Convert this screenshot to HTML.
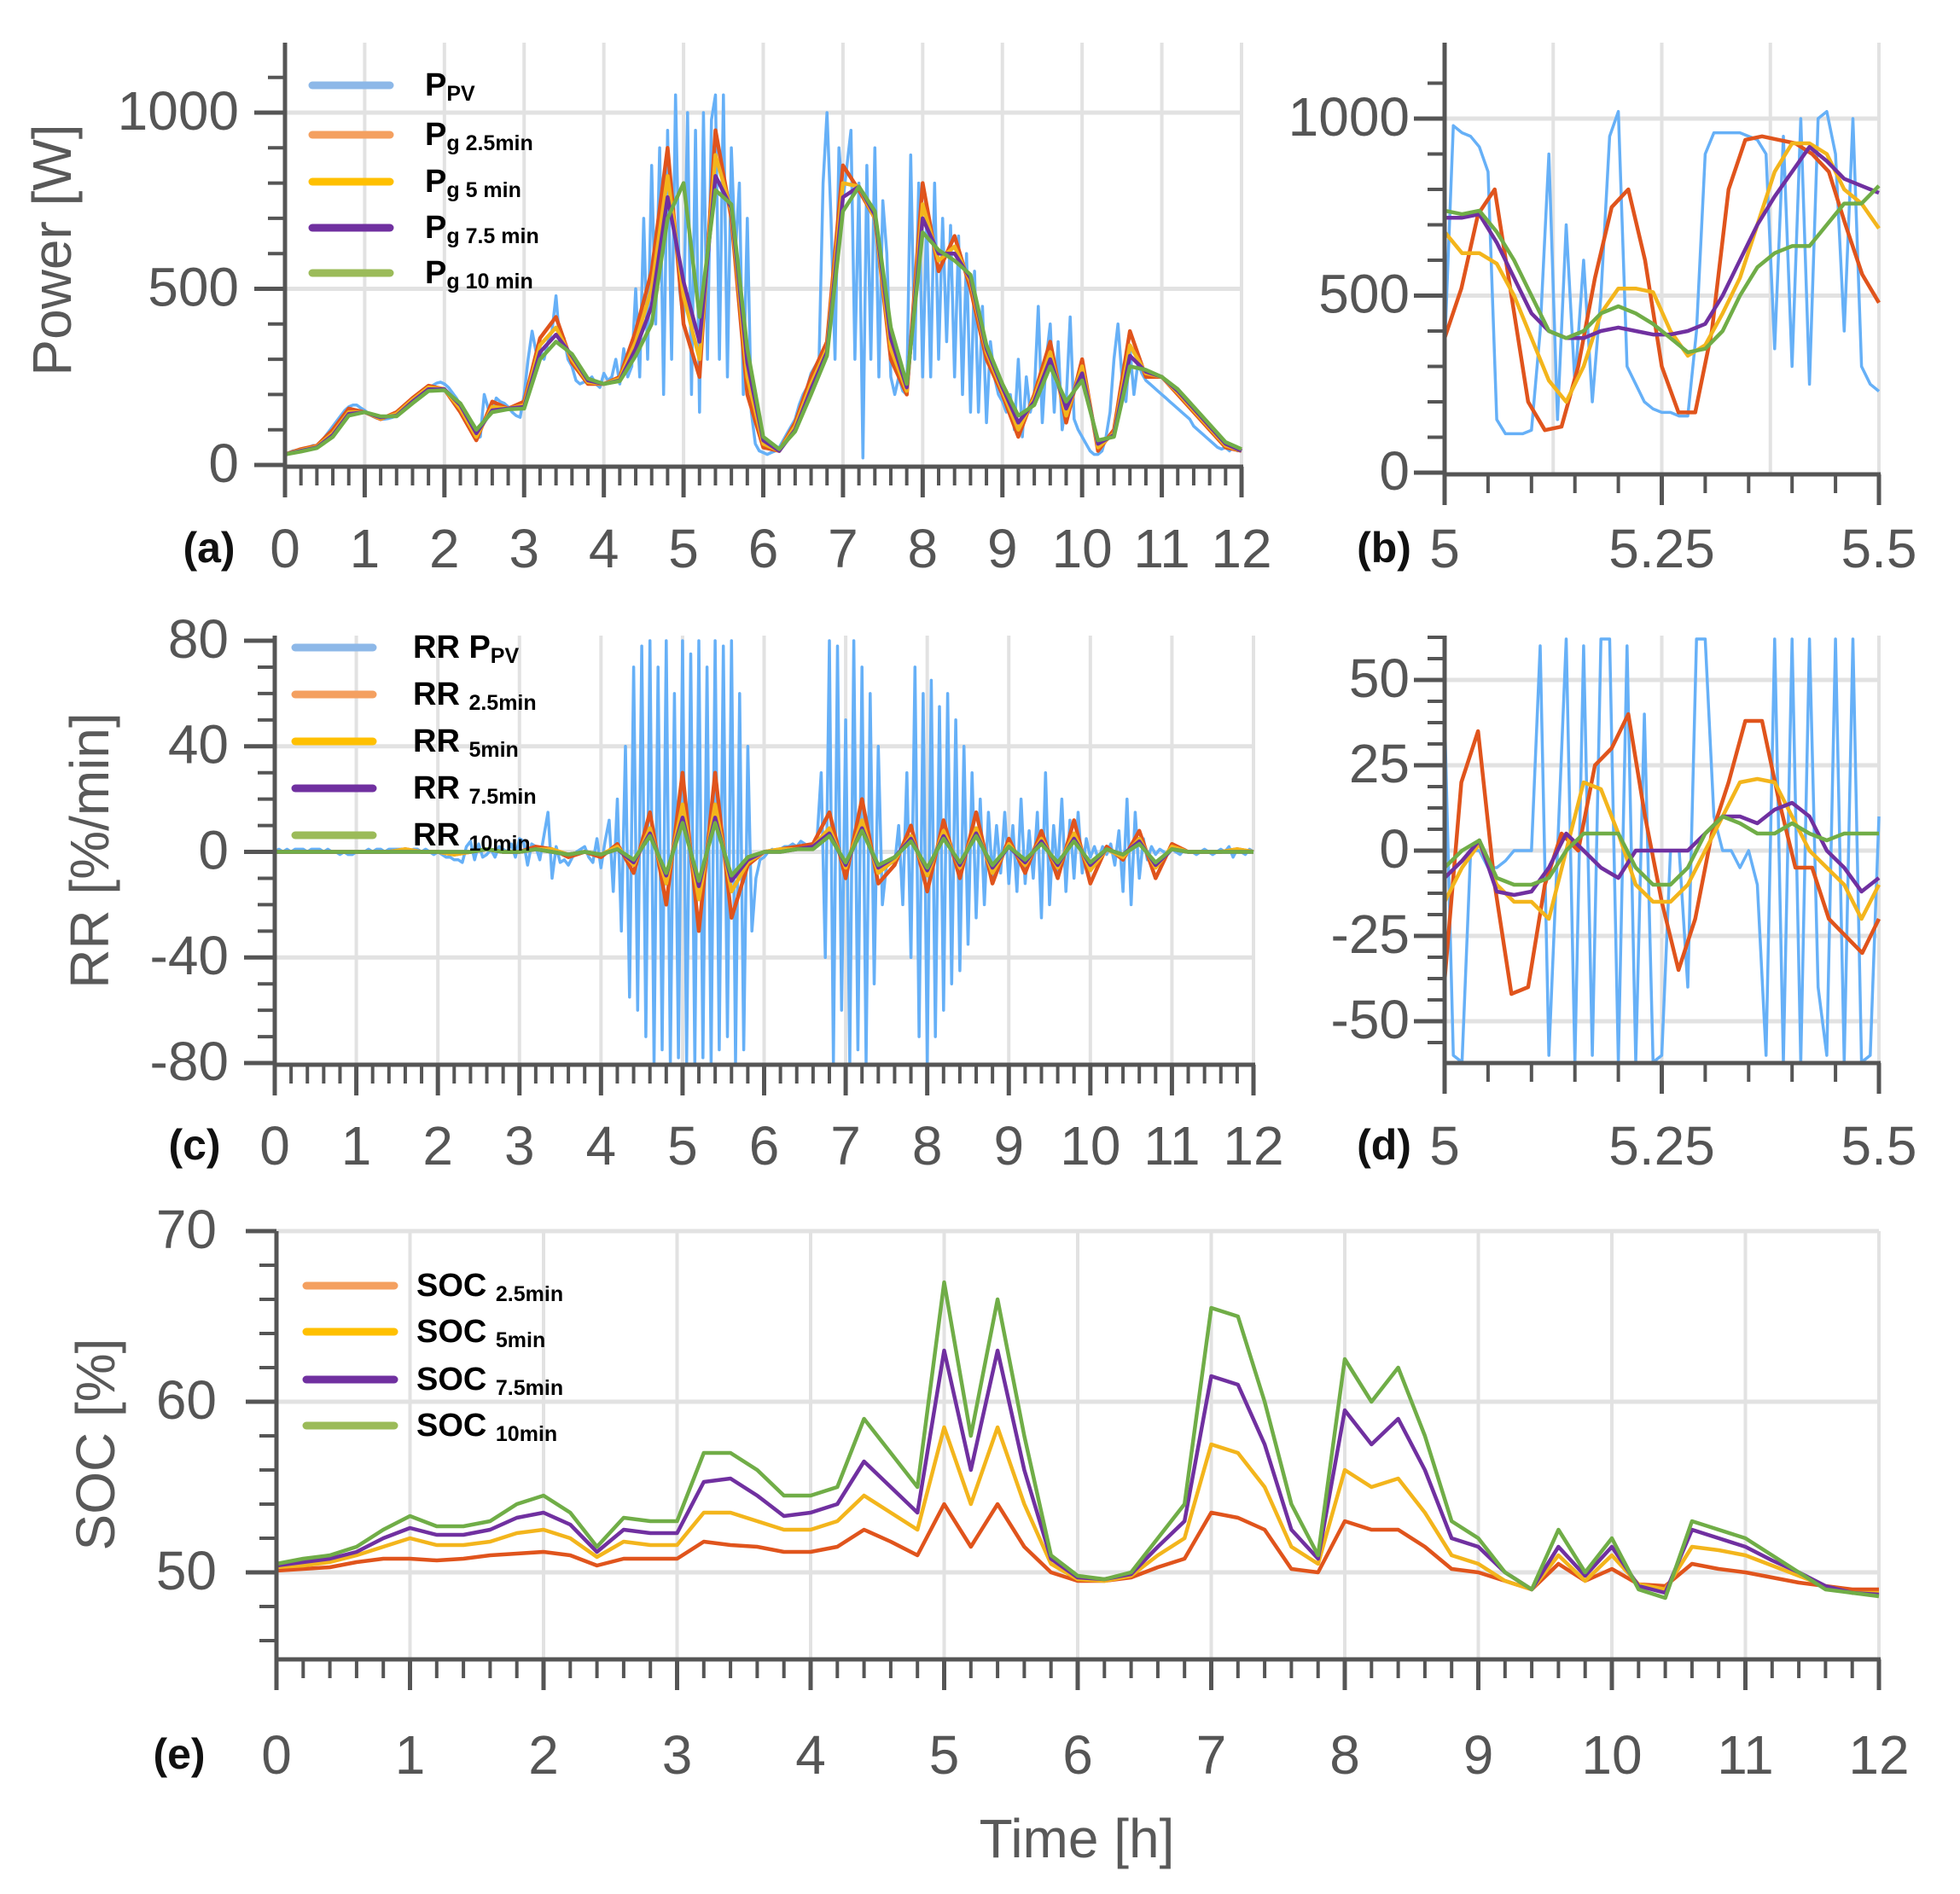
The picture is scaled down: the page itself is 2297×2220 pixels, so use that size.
<!DOCTYPE html>
<html><head><meta charset="utf-8">
<style>
html,body{margin:0;padding:0;background:#fff;}
svg{display:block;}
text{font-family:"Liberation Sans",sans-serif;}
</style></head>
<body>
<svg id="fig" width="2297" height="2220" viewBox="0 0 2297 2220" xmlns="http://www.w3.org/2000/svg">
<rect x="0" y="0" width="2297" height="2220" fill="#fff"/>
<g id="layer"></g>
<text x="66" y="293" font-size="64" fill="#595959" text-anchor="middle" dominant-baseline="middle" transform="rotate(-90 66 293)">Power [W]</text>
<text x="110" y="997" font-size="64" fill="#595959" text-anchor="middle" dominant-baseline="middle" transform="rotate(-90 110 997)">RR [%/min]</text>
<text x="117" y="1693" font-size="64" fill="#595959" text-anchor="middle" dominant-baseline="middle" transform="rotate(-90 117 1693)">SOC [%]</text>
<text x="1262" y="2160" font-size="64" fill="#595959" text-anchor="middle" dominant-baseline="middle">Time [h]</text>
<text x="245" y="646" font-size="50" font-weight="bold" fill="#111" text-anchor="middle" dominant-baseline="middle">(a)</text>
<text x="1622" y="646" font-size="50" font-weight="bold" fill="#111" text-anchor="middle" dominant-baseline="middle">(b)</text>
<text x="228" y="1346" font-size="50" font-weight="bold" fill="#111" text-anchor="middle" dominant-baseline="middle">(c)</text>
<text x="1622" y="1346" font-size="50" font-weight="bold" fill="#111" text-anchor="middle" dominant-baseline="middle">(d)</text>
<text x="210" y="2060" font-size="50" font-weight="bold" fill="#111" text-anchor="middle" dominant-baseline="middle">(e)</text>
</svg>
<script>
// ---------- DATA ----------
// Panel (a): power, 0..12 h
const pvPower = [30,35,40,42,45,48,50,55,55,65,80,95,110,125,140,155,165,170,170,162,155,
145,138,133,130,130,132,135,140,150,160,170,180,190,200,210,220,225,232,235,230,
220,205,190,170,150,120,90,75,80,200,160,150,190,180,175,165,150,140,135,200,
300,380,320,330,300,350,380,480,340,360,300,280,240,230,235,240,250,230,220,260,
240,250,300,230,330,250,280,500,250,700,300,850,400,900,200,950,300,1050,500,400,
1000,200,950,150,1000,300,980,1050,300,1050,250,900,600,800,200,700,150,60,40,35,
30,35,40,50,70,90,110,130,170,200,220,260,280,300,800,1000,700,300,900,750,
850,950,300,800,20,850,300,900,250,750,600,250,200,250,210,200,880,300,800,250,
700,250,800,300,700,350,680,250,650,200,600,150,550,150,450,120,350,250,200,180,
150,200,100,300,80,250,150,200,450,120,300,400,150,350,100,180,420,130,100,80,
60,40,30,30,40,80,150,300,400,250,180,330,200,290,260,240,230,220,210,200,
190,180,170,160,150,140,130,110,100,90,80,70,60,50,45,50,40,55,40,45];
const pg25 = [30,45,55,100,160,150,130,150,190,225,215,150,70,180,160,180,360,420,290,230,230,250,380,550,900,400,250,950,700,200,50,40,120,250,350,850,780,700,300,200,800,550,650,500,300,200,80,200,350,120,300,40,100,380,250,250,200,150,100,50,40];
const pg5 = [30,42,52,90,150,150,132,145,185,220,215,160,80,165,160,170,340,390,300,235,230,245,350,500,820,480,300,880,720,250,60,40,110,230,330,800,790,700,330,210,740,580,620,520,320,210,100,190,320,140,280,50,90,340,260,250,205,155,105,55,40];
const pg75 = [30,40,50,85,145,150,135,140,180,215,215,170,90,155,160,165,320,370,310,240,230,240,330,450,760,520,350,820,730,290,70,40,100,215,320,760,790,710,360,220,700,600,600,530,330,220,120,180,300,160,260,60,85,310,265,250,210,160,110,60,40];
const pg10 = [30,38,48,80,140,150,138,138,175,210,212,175,100,150,158,160,300,350,315,245,230,238,310,400,700,800,420,780,740,330,80,45,95,200,310,720,790,720,390,230,660,610,580,540,340,230,140,170,280,180,240,70,80,280,270,250,215,165,115,65,45];
// Panel (b): power, 5..5.5 h
const pvZoom = [350,980,960,950,920,850,150,110,110,110,120,400,900,150,700,250,600,200,500,950,1020,300,250,200,180,170,170,160,160,400,900,960,960,960,960,950,940,900,350,950,300,1000,250,1000,1020,900,400,1000,300,250,230];
const pgZoom25 = [380,520,730,800,500,200,120,130,300,550,750,800,600,300,170,170,400,800,940,950,940,930,900,850,700,560,480];
const pgZoom5 = [680,620,620,590,500,380,260,200,300,450,520,520,510,400,330,360,450,550,700,850,930,930,900,800,760,690];
const pgZoom75 = [720,720,730,650,550,450,400,380,380,400,410,400,390,390,400,420,500,600,700,780,850,920,880,830,810,790];
const pgZoom10 = [740,730,740,680,600,500,400,380,400,450,470,450,420,380,340,350,400,500,580,620,640,640,700,760,760,810];
// Panel (c): ramp rate, 0..12 h
const rrPv = [0,1,0,1,0,1,1,1,0,1,1,1,0,1,0,0,-1,0,-1,-1,0,
0,0,1,0,1,1,0,1,1,1,1,1,0,1,1,0,1,0,-1,0,
-1,-2,-2,-3,-3,-4,2,4,-3,3,-2,-1,1,-2,2,1,0,3,-2,5,
4,-5,3,2,-3,6,15,-10,2,-4,-3,-5,-2,0,1,2,-2,-4,5,-6,
4,12,-15,20,-30,40,-55,70,-60,78,-70,80,-80,70,-75,80,-80,60,-78,80,
-80,75,-80,80,-78,70,-80,80,-75,78,-70,80,-80,60,-75,40,-30,-10,-3,-2,
0,1,0,1,2,2,3,2,4,3,2,3,5,30,-40,80,-80,78,-60,50,
-80,80,-75,70,-80,60,-50,40,-20,-5,-3,-5,10,-20,30,-40,70,-70,60,-80,
65,-70,55,-60,60,-50,50,-45,40,-35,30,-25,20,-20,15,-10,10,-8,15,-12,
10,-15,20,-12,8,-10,15,-25,30,-20,10,-8,20,-15,12,-10,15,-8,5,-2,
2,-3,2,-1,3,-5,8,-15,20,-20,15,-10,5,-3,2,-1,1,0,-1,1,
0,-1,1,0,0,-1,0,1,0,-1,0,1,0,2,-2,1,0,-1,1,0];
const rr25 = [0,0,0,0,0,0,0,0,1,0,0,-1,0,1,0,0,2,1,-2,0,-2,3,-8,15,-20,30,-30,30,-25,-5,0,1,2,3,15,-10,20,-12,-5,10,-15,12,-10,15,-12,5,-8,8,-10,12,-12,2,-3,8,-10,3,0,0,0,1,0];
const rr5 = [0,0,0,0,0,0,0,0,1,0,0,-1,0,1,0,0,1,1,-1,0,-1,2,-5,9,-12,18,-18,18,-15,-4,0,1,1,2,9,-6,12,-8,-3,6,-9,8,-6,9,-8,3,-5,5,-6,7,-7,1,-2,5,-6,2,0,0,0,1,0];
const rr75 = [0,0,0,0,0,0,0,0,0,0,0,0,0,1,0,0,1,0,-1,0,-1,1,-4,7,-9,13,-13,13,-11,-3,0,0,1,2,7,-5,9,-6,-2,5,-7,6,-5,7,-6,2,-4,4,-5,5,-5,1,-1,4,-5,1,0,0,0,0,0];
const rr10 = [0,0,0,0,0,0,0,0,0,0,0,0,0,1,0,0,1,0,-1,0,-1,1,-3,6,-8,11,-11,11,-9,-2,0,0,1,1,6,-4,8,-5,-2,4,-6,5,-4,6,-5,2,-3,3,-4,4,-4,1,-1,3,-4,1,0,0,0,0,0];
// Panel (d): ramp rate, 5..5.5 h
const rrPvZoom = [40,-60,-70,0,0,-5,-5,-3,0,0,0,60,-60,0,70,-70,60,-60,70,80,-80,60,-80,40,-70,-60,0,0,-40,70,80,10,0,0,-5,0,-10,-60,70,-70,80,-70,70,-40,-60,80,-70,80,-80,-60,10];
const rrZoom25 = [-38,20,35,-10,-42,-40,-10,5,0,25,30,40,10,-15,-35,-20,5,20,38,38,15,-5,-5,-20,-25,-30,-20];
const rrZoom5 = [-15,-5,2,-10,-15,-15,-20,0,20,18,5,-10,-15,-15,-10,0,10,20,21,20,10,0,-5,-10,-20,-10];
const rrZoom75 = [-8,-3,3,-12,-13,-12,-5,5,0,-5,-8,0,0,0,0,5,10,10,8,12,14,10,0,-5,-12,-8];
const rrZoom10 = [-5,0,3,-8,-10,-10,-8,0,5,5,5,-5,-10,-10,-5,5,10,8,5,5,8,5,3,5,5,5];
// Panel (e): SOC, 0..12 h
const soc25 = [50.1,50.2,50.3,50.6,50.8,50.8,50.7,50.8,51,51.1,51.2,51,50.4,50.8,50.8,50.8,51.8,51.6,51.5,51.2,51.2,51.5,52.5,51.8,51,54,51.5,54,51.5,50,49.5,49.5,49.7,50.3,50.8,53.5,53.2,52.5,50.2,50,53,52.5,52.5,51.5,50.2,50,49.5,49,50.5,49.5,50.2,49.3,49.2,50.5,50.2,50,49.7,49.4,49.2,49,49];
const soc5 = [50.3,50.4,50.6,51,51.5,52,51.6,51.6,51.8,52.3,52.5,52,50.9,51.8,51.6,51.6,53.5,53.5,53,52.5,52.5,53,54.5,53.5,52.5,58.5,54,58.5,54,50.5,49.6,49.5,49.8,51,52,57.5,57,55,51.5,50.5,56,55,55.5,53.5,51,50.5,49.5,49,51,49.5,51,49.3,49,51.5,51.3,51,50.4,49.8,49.2,48.8,48.8];
const soc75 = [50.4,50.6,50.8,51.2,52,52.6,52.2,52.2,52.5,53.2,53.5,52.8,51.2,52.5,52.3,52.3,55.3,55.5,54.5,53.3,53.5,54,56.5,55,53.5,63,56,63,56,50.8,49.7,49.6,49.9,51.5,53,61.5,61,57.5,52.5,50.8,59.5,57.5,59,56,52,51.5,50,49,51.5,49.8,51.5,49.2,48.8,52.5,52,51.5,50.7,50,49.2,48.8,48.7];
const soc10 = [50.5,50.8,51,51.5,52.5,53.3,52.7,52.7,53,54,54.5,53.5,51.5,53.2,53,53,57,57,56,54.5,54.5,55,59,57,55,67,58,66,58,51,49.8,49.6,50,52,54,65.5,65,60,54,51,62.5,60,62,58,53,52,50,49,52.5,50,52,49,48.5,53,52.5,52,51,50,49,48.8,48.6];
// tick labels
const hourTicks = ["0","1","2","3","4","5","6","7","8","9","10","11","12"];
const zoomTicks = ["5","5.25","5.5"];
const powerTicks = ["0","500","1000"];
const rrTicks = ["-80","-40","0","40","80"];
const rrZoomTicks = ["-50","-25","0","25","50"];
const socTicks = ["50","60","70"];

// ---------- DRAWING ----------
const NS = "http://www.w3.org/2000/svg";
const layer = document.getElementById("layer");
const C = {pv:"#66b0f7", o:"#e0541c", y:"#f3b51c", p:"#7030a0", g:"#70ad47"};
const LC = {pv:"#8db8e8", o:"#f4a060", y:"#ffc000", p:"#7030a0", g:"#9bbb59"};
function mk(tag, attrs, parent){
  const e = document.createElementNS(NS, tag);
  for (const k in attrs) e.setAttribute(k, attrs[k]);
  (parent||layer).appendChild(e);
  return e;
}
function panel(cfg){
  const g = mk("g", {});
  
  
  const sx = v => cfg.px0 + (v - cfg.x0) / (cfg.x1 - cfg.x0) * (cfg.px1 - cfg.px0);
  const sy = v => cfg.py0 + (v - cfg.y0) / (cfg.y1 - cfg.y0) * (cfg.py1 - cfg.py0);
  const top = cfg.top, bot = cfg.bottom;
  cfg.vgrid.forEach(v => {
    const l = mk("line", {x1:sx(v), x2:sx(v), y1:top, y2:bot, stroke:"#e2e2e2", "stroke-width":4}, g);
    
    
  });
  cfg.hgrid.forEach(v => {
    const l = mk("line", {x1:cfg.px0, x2:cfg.px1, y1:sy(v), y2:sy(v), stroke:"#e2e2e2", "stroke-width":5}, g);
    
    
  });
  cfg.series.forEach(s => {
    const n = s.data.length;
    const pts = s.data.map((v,i) => {
      const t = cfg.x0 + i * (cfg.x1 - cfg.x0) / (n - 1);
      let yv = Math.max(cfg.clipLo, Math.min(cfg.clipHi, v));
      return sx(t).toFixed(1) + "," + sy(yv).toFixed(1);
    }).join(" ");
    const pl = mk("polyline", {points:pts, fill:"none", stroke:s.color, "stroke-width":s.w||4.5, "stroke-linejoin":"round"}, g);
    
    
  });
  const ya = mk("line", {x1:cfg.px0, x2:cfg.px0, y1:top, y2:bot, stroke:"#555", "stroke-width":5}, g);
  
  
  const xa = mk("line", {x1:cfg.px0-2, x2:cfg.px1+2, y1:bot, y2:bot, stroke:"#555", "stroke-width":5}, g);
  
  
  for (let v = cfg.x0; v <= cfg.x1 + 1e-9; v += cfg.xMinor) {
    const major = Math.abs(Math.round((v - cfg.x0)/cfg.xMajor)*cfg.xMajor - (v - cfg.x0)) < 1e-6;
    const t = mk("line", {x1:sx(v), x2:sx(v), y1:bot, y2:bot + (major?36:22), stroke:"#555", "stroke-width":major?5:4}, g);
    
    
  }
  cfg.xLabels.forEach((lab, i) => {
    const v = cfg.x0 + i * cfg.xLabelStep;
    const tx = mk("text", {x:sx(v), y:cfg.xLabelY, "font-size":cfg.fs, fill:"#555", "text-anchor":"middle", "dominant-baseline":"middle"}, g);
    
    
    tx.textContent = lab;
  });
  for (let v = cfg.yTickStart; v <= cfg.yTickEnd + 1e-9; v += cfg.yMinor) {
    const major = Math.abs(Math.round((v - cfg.y0)/cfg.yMajor)*cfg.yMajor - (v - cfg.y0)) < 1e-6;
    const t = mk("line", {x1:cfg.px0 - (major?36:20), x2:cfg.px0, y1:sy(v), y2:sy(v), stroke:"#555", "stroke-width":major?5:4}, g);
    
    
  }
  cfg.yLabels.forEach((lab, i) => {
    const v = cfg.y0 + i * cfg.yLabelStep;
    const tx = mk("text", {x:cfg.yLabelX, y:sy(v)+3, "font-size":cfg.fs, fill:"#555", "text-anchor":"end", "dominant-baseline":"middle"}, g);
    
    
    tx.textContent = lab;
  });
}
function legend(items, lx0, lx1, tx, ys){
  items.forEach((it, i) => {
    const g = mk("g", {});
    
    
    const l = mk("line", {x1:lx0, x2:lx1, y1:ys[i], y2:ys[i], stroke:it.color, "stroke-width":9, "stroke-linecap":"round"}, g);
    
    
    const t = mk("text", {x:tx, y:ys[i]+12, "font-size":38, "font-weight":"bold", fill:"#000"}, g);
    
    
    const a = mk("tspan", {}, t); a.textContent = it.main;
    const b = mk("tspan", {"font-size":25, dy:6}, t); b.textContent = it.sub;
  });
}

panel({name:"power-chart-a", px0:334, px1:1455, py0:545, py1:132, x0:0, x1:12, y0:0, y1:1000,
  top:50, bottom:547, clipLo:0, clipHi:1190,
  vgrid:[1,2,3,4,5,6,7,8,9,10,11,12], hgrid:[500,1000],
  xMinor:0.2, xMajor:1, xLabels:hourTicks, xLabelStep:1, xLabelY:648,
  yMinor:100, yMajor:500, yTickStart:0, yTickEnd:1100, yLabels:powerTicks, yLabelStep:500, yLabelX:280, fs:64,
  series:[{name:"pv-power-line",data:pvPower,color:C.pv,w:3.5},{name:"pg-2.5min-line",data:pg25,color:C.o},{name:"pg-5min-line",data:pg5,color:C.y},{name:"pg-7.5min-line",data:pg75,color:C.p},{name:"pg-10min-line",data:pg10,color:C.g}]});
panel({name:"power-zoom-chart-b", px0:1693, px1:2202, py0:554, py1:139, x0:5, x1:5.5, y0:0, y1:1000,
  top:50, bottom:556, clipLo:0, clipHi:1190,
  vgrid:[5.125,5.25,5.375,5.5], hgrid:[500,1000],
  xMinor:0.05, xMajor:0.25, xLabels:zoomTicks, xLabelStep:0.25, xLabelY:648,
  yMinor:100, yMajor:500, yTickStart:0, yTickEnd:1100, yLabels:powerTicks, yLabelStep:500, yLabelX:1652, fs:64,
  series:[{name:"pv-power-zoom-line",data:pvZoom,color:C.pv,w:3.5},{name:"pg-2.5min-zoom-line",data:pgZoom25,color:C.o},{name:"pg-5min-zoom-line",data:pgZoom5,color:C.y},{name:"pg-7.5min-zoom-line",data:pgZoom75,color:C.p},{name:"pg-10min-zoom-line",data:pgZoom10,color:C.g}]});
panel({name:"ramp-rate-chart-c", px0:322, px1:1469, py0:1246, py1:751, x0:0, x1:12, y0:-80, y1:80,
  top:745, bottom:1248, clipLo:-80, clipHi:80,
  vgrid:[1,2,3,4,5,6,7,8,9,10,11,12], hgrid:[-40,0,40],
  xMinor:0.2, xMajor:1, xLabels:hourTicks, xLabelStep:1, xLabelY:1348,
  yMinor:10, yMajor:40, yTickStart:-80, yTickEnd:80, yLabels:rrTicks, yLabelStep:40, yLabelX:268, fs:64,
  series:[{name:"rr-pv-line",data:rrPv,color:C.pv,w:3.5},{name:"rr-2.5min-line",data:rr25,color:C.o},{name:"rr-5min-line",data:rr5,color:C.y},{name:"rr-7.5min-line",data:rr75,color:C.p},{name:"rr-10min-line",data:rr10,color:C.g}]});
panel({name:"ramp-rate-zoom-chart-d", px0:1693, px1:2202, py0:1197, py1:797, x0:5, x1:5.5, y0:-50, y1:50,
  top:745, bottom:1246, clipLo:-62, clipHi:62,
  vgrid:[5.25,5.5], hgrid:[-50,-25,0,25,50],
  xMinor:0.05, xMajor:0.25, xLabels:zoomTicks, xLabelStep:0.25, xLabelY:1348,
  yMinor:6.25, yMajor:25, yTickStart:-56.25, yTickEnd:62.5, yLabels:rrZoomTicks, yLabelStep:25, yLabelX:1652, fs:64,
  series:[{name:"rr-pv-zoom-line",data:rrPvZoom,color:C.pv,w:3.5},{name:"rr-2.5min-zoom-line",data:rrZoom25,color:C.o},{name:"rr-5min-zoom-line",data:rrZoom5,color:C.y},{name:"rr-7.5min-zoom-line",data:rrZoom75,color:C.p},{name:"rr-10min-zoom-line",data:rrZoom10,color:C.g}]});
panel({name:"soc-chart-e", px0:324, px1:2202, py0:1843, py1:1443, x0:0, x1:12, y0:50, y1:70,
  top:1443, bottom:1945, clipLo:45, clipHi:70,
  vgrid:[1,2,3,4,5,6,7,8,9,10,11,12], hgrid:[50,60,70],
  xMinor:0.2, xMajor:1, xLabels:hourTicks, xLabelStep:1, xLabelY:2062,
  yMinor:2, yMajor:10, yTickStart:46, yTickEnd:70, yLabels:socTicks, yLabelStep:10, yLabelX:254, fs:64,
  series:[{name:"soc-2.5min-line",data:soc25,color:C.o},{name:"soc-5min-line",data:soc5,color:C.y},{name:"soc-7.5min-line",data:soc75,color:C.p},{name:"soc-10min-line",data:soc10,color:C.g}]});

legend([{color:LC.pv,main:"P",sub:"PV"},{color:LC.o,main:"P",sub:"g 2.5min"},{color:LC.y,main:"P",sub:"g 5 min"},{color:LC.p,main:"P",sub:"g 7.5 min"},{color:LC.g,main:"P",sub:"g 10 min"}],
  366, 457, 498, [100,158,213,267,320]);
legend([{color:LC.pv,main:"RR P",sub:"PV"},{color:LC.o,main:"RR ",sub:"2.5min"},{color:LC.y,main:"RR ",sub:"5min"},{color:LC.p,main:"RR ",sub:"7.5min"},{color:LC.g,main:"RR ",sub:"10min"}],
  346, 437, 484, [759,814,869,924,979]);
legend([{color:LC.o,main:"SOC ",sub:"2.5min"},{color:LC.y,main:"SOC ",sub:"5min"},{color:LC.p,main:"SOC ",sub:"7.5min"},{color:LC.g,main:"SOC ",sub:"10min"}],
  359, 462, 488, [1507,1561,1617,1671]);
</script>
</body></html>
